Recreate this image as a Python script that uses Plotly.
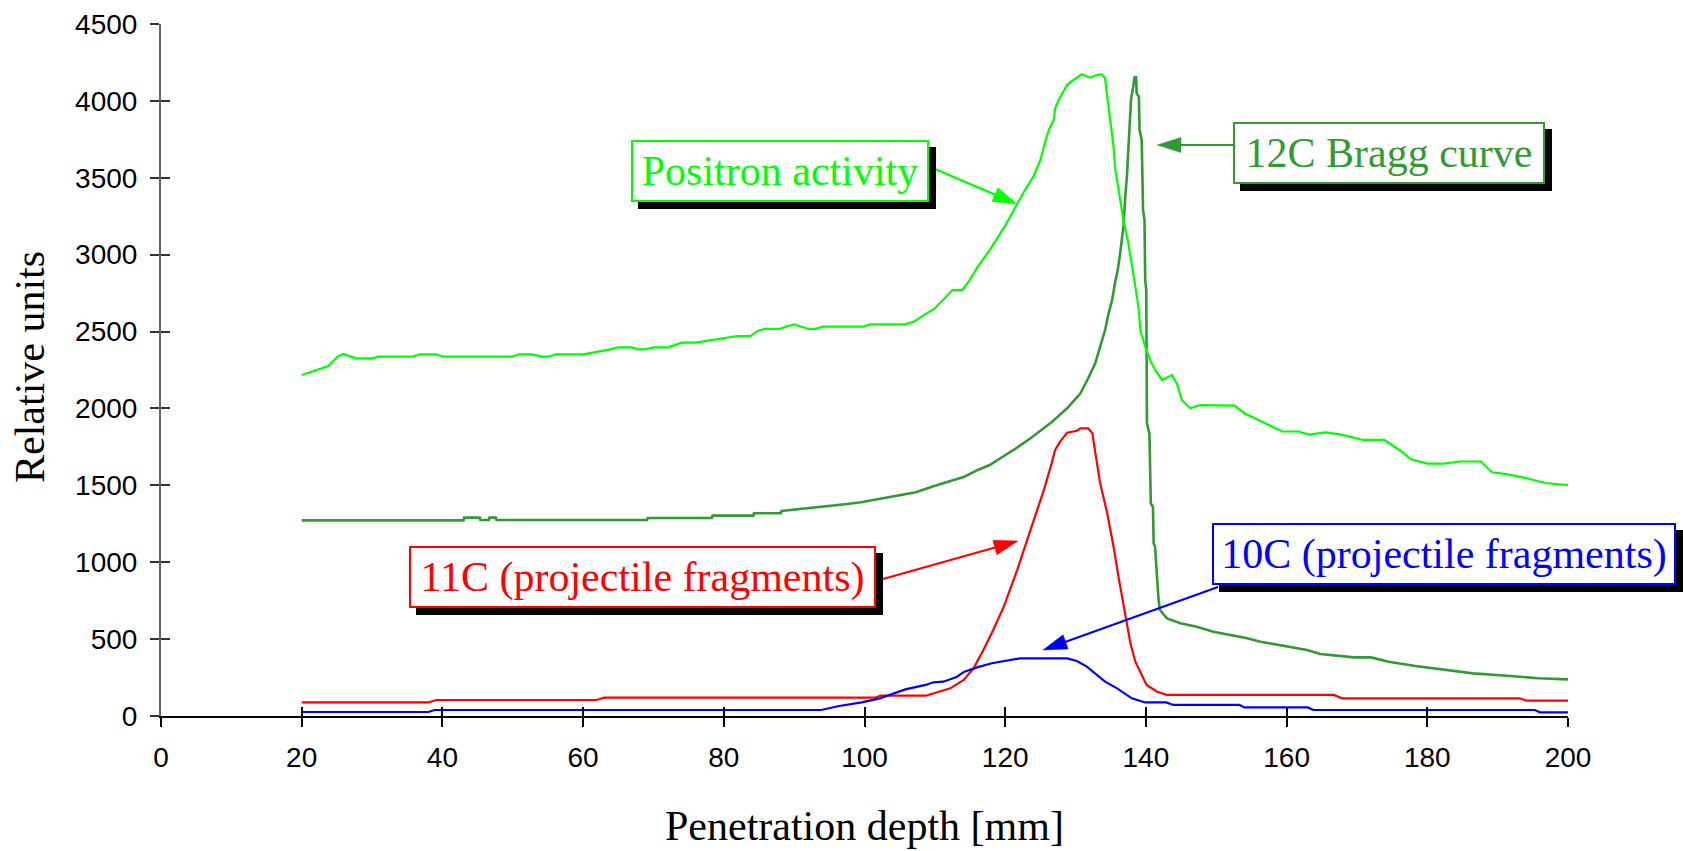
import math
import plotly.graph_objects as go

# ---- data: penetration depth [mm] and relative units ----
positron_x = [20, 23.8, 25.1, 25.9, 27.7, 30.0, 31.0, 35.8, 36.8, 39.1, 40.1, 49.9, 50.9, 52.8,
              54.1, 55.1, 56.1, 60.0, 63.9, 64.9, 66.9, 67.8, 68.8, 70.1, 72.1, 74.0, 76.0, 81.9,
              83.8, 84.8, 85.8, 87.8, 90.0, 92.0, 93.0, 94.0, 99.8, 100.8, 105.7, 107.0, 108.6,
              109.9, 111.6, 112.5, 113.9, 114.5, 114.8, 116.1, 117.8, 119.3, 120.2, 121.7, 122.8,
              124.0, 125.0, 125.7, 126.2, 126.9, 127.1, 127.6, 128.8, 129.7, 130.9, 132.1, 133.0,
              133.7, 134.2, 134.5, 134.9, 135.4, 135.6, 136.1, 136.8, 137.5, 138.0, 138.5, 139.0,
              139.2, 139.9, 140.6, 141.3, 142.3, 143.7, 144.4, 145.1, 146.3, 147.7, 152.6, 154.0,
              157.1, 159.4, 161.7, 163.2, 165.5, 167.8, 170.9, 173.9, 176.2, 177.7, 180.0, 182.3,
              184.6, 187.6, 189.2, 191.5, 193.7, 196.8, 200]
positron_y = [2217, 2276, 2337, 2354, 2326, 2326, 2337, 2337, 2352, 2352, 2337, 2337, 2352, 2352,
              2337, 2337, 2352, 2352, 2384, 2397, 2397, 2384, 2384, 2397, 2397, 2428, 2428, 2471,
              2471, 2504, 2517, 2517, 2547, 2517, 2517, 2532, 2532, 2547, 2547, 2564, 2612,
              2647, 2727, 2770, 2770, 2803, 2824, 2922, 3030, 3139, 3204, 3329, 3420,
              3507, 3616, 3735, 3811, 3876, 3952, 4006, 4103, 4136, 4173, 4151, 4168,
              4173, 4147, 4027, 3897, 3702, 3572, 3420, 3225, 3074, 2944, 2792, 2640,
              2510, 2402, 2315, 2250, 2185, 2217, 2163, 2055, 2001, 2022, 2018, 1969,
              1899, 1850, 1850, 1830, 1844, 1830, 1795, 1795, 1725, 1669, 1641, 1641,
              1655, 1655, 1585, 1571, 1550, 1515, 1501]

bragg_x = [20, 43.0, 43.1, 45.3, 45.4, 46.6, 46.7, 47.6, 47.7, 69.1, 69.2, 78.3, 78.4, 84.2,
           84.3, 88.1, 88.2, 92.0, 94.9, 97.2, 99.5, 101.5, 103.4, 105.0, 107.3, 109.9, 111.6,
           114.2, 116.1, 117.8, 119.3, 121.2, 123.6, 126.4, 128.8, 130.7, 131.8, 132.8, 133.5,
           134.2, 134.7, 135.2, 135.6, 136.0, 136.4, 136.8, 137.1, 137.3, 137.5, 137.7, 137.9,
           138.2, 138.4, 138.6, 138.7, 139.0, 139.1, 139.4, 139.6, 139.8, 139.9, 140.05, 140.15,
           140.5, 140.6, 140.7, 141.0, 141.1, 141.3, 141.6, 141.8, 142.0, 143.0, 144.9, 147.2,
           149.6, 152.0, 154.4, 156.3, 162.9, 164.8, 169.6, 172.0, 174.5, 178.3, 182.2, 186.5,
           191.8, 195.8, 200]
bragg_y = [1272, 1272, 1290, 1290, 1275, 1275, 1290, 1290, 1275, 1275, 1288, 1288, 1303, 1303,
           1318, 1318, 1333, 1350, 1366, 1377, 1390, 1407, 1422, 1437, 1455, 1496, 1520,
           1556, 1600, 1632, 1676, 1730, 1806, 1903, 2001, 2098, 2196, 2293, 2402,
           2510, 2618, 2705, 2814, 2900, 3030, 3182, 3399, 3507, 3681, 3832, 4017,
           4092, 4153, 4153, 4049, 4027, 3811, 3746, 3290, 3225, 2835, 2770, 1903,
           1838, 1600, 1383, 1361, 1123, 1101, 884, 754, 689, 635, 603, 581,
           548, 527, 505, 483, 429, 403, 381, 381, 353, 325, 303, 277,
           260, 245, 238]

c11_x = [20, 38.0, 39.1, 61.9, 63.0, 101.5, 102.3, 108.7, 110.0, 112.2, 114.1, 115.5, 116.9,
         118.3, 119.8, 121.7, 123.6, 125.5, 126.6, 127.1, 127.8, 128.8, 130.2, 130.7, 131.8,
         132.4, 132.6, 133.0, 133.5, 134.5, 135.4, 136.1, 136.7, 137.2, 137.8, 138.5, 139.4,
         140.1, 141.6, 143.0, 166.7, 167.9, 193.1, 194.1, 200]
c11_y = [88, 88, 104, 104, 119, 119, 132, 132, 150, 180, 234, 310, 429,
         559, 711, 949, 1210, 1470, 1643, 1730, 1784, 1842, 1855, 1871, 1871,
         1838, 1773, 1665, 1513, 1318, 1101, 906, 754, 603, 473, 353, 267,
         202, 158, 137, 137, 115, 115, 100, 100]

c10_x = [20, 38.0, 38.9, 93.8, 96.4, 99.6, 102.2, 105.8, 108.7, 109.8, 111.2, 113.1, 114.2,
         116.0, 118.1, 120.0, 122.1, 128.8, 130.2, 131.6, 132.8, 134.2, 135.9, 138.0, 139.9,
         142.9, 143.9, 153.3, 154.0, 163.0, 163.8, 195.3, 196.0, 200]
c10_y = [26, 26, 39, 39, 65, 89, 115, 173, 202, 219, 223, 254, 288,
         316, 343, 358, 375, 375, 358, 321, 277, 223, 180, 115, 88,
         88, 72, 72, 56, 56, 39, 39, 24, 24]

x_ticks = list(range(0, 201, 20))
y_ticks = list(range(0, 4501, 500))

# ---- colours ----
BRIGHT_GREEN = "#00FF00"
DARK_GREEN = "#339933"
RED = "#FF0000"
BLUE = "#0000FF"

# ---- page geometry (pixels) ----
W, H = 1683, 851
ML, MR, MT, MB = 161, 115, 24, 135
PW = W - ML - MR
PH = H - MT - MB


def paper(px, py):
    """Pixel position on the page -> paper coordinates of the plot area."""
    return (px - ML) / PW, (H - MB - py) / PH


fig = go.Figure()
series = [
    (bragg_x, bragg_y, DARK_GREEN, 2.6),
    (positron_x, positron_y, BRIGHT_GREEN, 2.2),
    (c11_x, c11_y, RED, 2.2),
    (c10_x, c10_y, BLUE, 2.2),
]
for xs, ys, col, lw in series:
    fig.add_trace(go.Scatter(x=xs, y=ys, mode="lines", line=dict(color=col, width=lw),
                             showlegend=False, hoverinfo="skip"))
# carrier for the overlaid axes that draw the inner half of the cross ticks
fig.add_trace(go.Scatter(x=[], y=[], xaxis="x2", yaxis="y2", showlegend=False))

tick_font = dict(family="Liberation Sans, Arial, sans-serif", size=28, color="black")
fig.update_layout(
    width=W, height=H,
    margin=dict(l=ML, r=MR, t=MT, b=MB, autoexpand=False),
    paper_bgcolor="white", plot_bgcolor="white",
    xaxis=dict(range=[0, 200], tickvals=x_ticks, ticks="outside", ticklen=9, tickwidth=1.5,
               tickcolor="black", showline=True, linecolor="black", linewidth=1.5,
               showgrid=False, zeroline=False, tickfont=tick_font, ticklabelstandoff=7),
    yaxis=dict(range=[0, 4500], tickvals=y_ticks, ticks="outside", ticklen=9, tickwidth=1.5,
               tickcolor="#333333", showline=True, linecolor="#666666", linewidth=2,
               showgrid=False, zeroline=False, tickfont=tick_font, ticklabelstandoff=7),
    xaxis2=dict(range=[0, 200], tickvals=x_ticks, ticks="inside", ticklen=9, tickwidth=1.5,
                tickcolor="black", showticklabels=False, showline=False, showgrid=False,
                zeroline=False, overlaying="x", anchor="y2", side="bottom"),
    yaxis2=dict(range=[0, 4500], tickvals=y_ticks, ticks="inside", ticklen=9, tickwidth=1.5,
                tickcolor="#333333", showticklabels=False, showline=False, showgrid=False,
                zeroline=False, overlaying="y", anchor="x2", side="left"),
)

serif = "Liberation Serif, Times New Roman, serif"

# axis titles
tx, ty = paper(864, 826)
fig.add_annotation(xref="paper", yref="paper", x=tx, y=ty, xanchor="center", yanchor="middle",
                   text="Penetration depth [mm]", showarrow=False,
                   font=dict(family=serif, size=42, color="black"))
tx, ty = paper(30, 367)
fig.add_annotation(xref="paper", yref="paper", x=tx, y=ty, xanchor="center", yanchor="middle",
                   text="Relative units", textangle=-90, showarrow=False,
                   font=dict(family=serif, size=42, color="black"))

# labelled boxes: text, colour, box left/top/right/bottom in pixels
boxes = [
    ("Positron activity", BRIGHT_GREEN, (631, 140, 929, 202)),
    ("12C Bragg curve", DARK_GREEN, (1233, 122, 1545, 184)),
    ("11C (projectile fragments)", RED, (409, 546, 876, 608)),
    ("10C (projectile fragments)", BLUE, (1212, 523, 1676, 585)),
]
BW = 2
SHADOW = 7
for text, col, (x0, y0, x1, y1) in boxes:
    cx, cy = paper((x0 + x1) / 2, (y0 + y1) / 2)
    w, h = x1 - x0 - 2 * BW, y1 - y0 - 2 * BW
    # drop shadow: a plain black box of the same size, offset down-right
    fig.add_annotation(xref="paper", yref="paper", x=cx, y=cy, xanchor="center",
                       yanchor="middle", text=" ", showarrow=False, width=w, height=h,
                       bgcolor="black", bordercolor="black", borderwidth=BW, borderpad=0,
                       xshift=SHADOW, yshift=-SHADOW, font=dict(size=10, color="black"))
    fig.add_annotation(xref="paper", yref="paper", x=cx, y=cy, xanchor="center",
                       yanchor="middle", text=text, showarrow=False, width=w, height=h,
                       bgcolor="white", bordercolor=col, borderwidth=BW, borderpad=0,
                       font=dict(family=serif, size=42, color=col))

# pointer arrows: tail and tip in pixels
arrows = [
    ((935, 169), (1017, 204), BRIGHT_GREEN),
    ((1233, 145), (1157, 145), DARK_GREEN),
    ((883, 579), (1018, 541), RED),
    ((1218, 587), (1043, 650), BLUE),
]
HEAD_LEN, HEAD_HALF = 24, 7.5
for (sx, sy), (ex, ey), col in arrows:
    dx, dy = ex - sx, ey - sy
    n = math.hypot(dx, dy)
    ux, uy = dx / n, dy / n
    bx, by = ex - HEAD_LEN * ux, ey - HEAD_LEN * uy
    p0 = paper(sx, sy)
    p1 = paper(bx + 2 * ux, by + 2 * uy)
    fig.add_shape(type="line", xref="paper", yref="paper", x0=p0[0], y0=p0[1],
                  x1=p1[0], y1=p1[1], line=dict(color=col, width=2.2))
    c1 = paper(bx - HEAD_HALF * uy, by + HEAD_HALF * ux)
    c2 = paper(bx + HEAD_HALF * uy, by - HEAD_HALF * ux)
    tip = paper(ex, ey)
    path = "M {:.5f},{:.5f} L {:.5f},{:.5f} L {:.5f},{:.5f} Z".format(
        tip[0], tip[1], c1[0], c1[1], c2[0], c2[1])
    fig.add_shape(type="path", xref="paper", yref="paper", path=path,
                  fillcolor=col, line=dict(color=col, width=0.5))

fig.write_html("out.html")
